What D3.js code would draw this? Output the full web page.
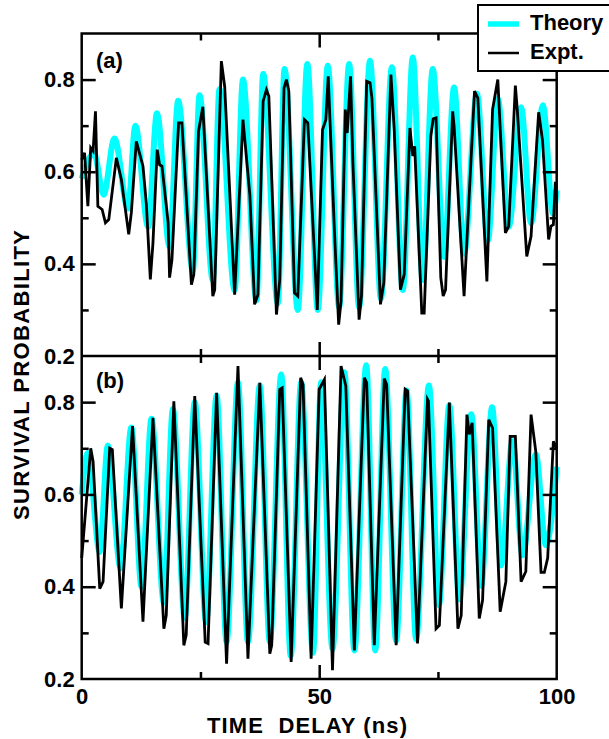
<!DOCTYPE html>
<html>
<head>
  <script src="https://d3js.org/d3.v7.min.js"></script>
  <style>
    body { margin: 0; background: #fff; }
    text { font-family: "Liberation Sans", Arial, sans-serif; font-weight: bold; }
  </style>
</head>
<body>
<script>
// panel (a) theory
var aTheoryT = [0, 2.6, 4.6, 6.9, 9.75, 11.3, 14.0, 15.85, 18.5, 20.3, 23.4, 24.8, 27.6, 29.0, 32.2, 33.95, 36.8, 38.2, 41.3, 42.7, 45.5, 47.5, 49.7, 51.8, 54.2, 56.3, 58.4, 60.7, 63.0, 65.3, 67.6, 69.7, 71.8, 73.9, 76.3, 78.4, 80.5, 83.2, 85.5, 87.6, 89.9, 92.5, 94.6, 97.1, 99.2, 100];
var aTheoryV = [0.585, 0.64, 0.55, 0.672, 0.52, 0.70, 0.48, 0.727, 0.437, 0.754, 0.386, 0.766, 0.365, 0.779, 0.343, 0.80, 0.321, 0.812, 0.314, 0.823, 0.30, 0.834, 0.30, 0.83, 0.306, 0.834, 0.306, 0.841, 0.325, 0.827, 0.343, 0.848, 0.365, 0.823, 0.415, 0.783, 0.422, 0.769, 0.451, 0.758, 0.48, 0.74, 0.488, 0.744, 0.509, 0.56];

// panel (a) experiment
var aExptT = [0, 0.6, 1.3, 1.9, 2.4, 2.9, 3.4, 4.3, 5.0, 5.7, 7.3, 8.35, 9.9, 10.45, 11.5, 12.9, 13.6, 14.45, 15.0, 15.9, 16.4, 16.9, 18.2, 18.5, 19.0, 20.4, 21.1, 23.1, 23.6, 24.6, 25.5, 27.6, 28.0, 29.4, 30.1, 32.2, 33.95, 35.4, 36.4, 37.1, 38.2, 38.9, 39.4, 41.0, 41.7, 42.6, 43.1, 43.6, 44.8, 45.5, 46.9, 47.6, 49.6,
  50.7, 51.4, 51.9, 53.2, 54.1, 54.6, 55.5, 55.9, 56.6, 57.1, 58.4, 58.9, 60.0, 60.7, 61.1, 62.9, 63.6, 65.1, 65.8, 67.1, 67.9, 69.1, 69.7, 70.1, 71.6, 72.1, 73.5, 74.0, 74.6, 75.6, 76.1, 76.6, 78.1, 78.4, 80.5, 82.7, 83.4, 85.3, 86.5, 87.6, 89.2, 89.9, 91.3, 91.7, 93.7, 94.6, 96.2, 97.0, 98.3, 98.8, 99.3, 99.7, 100];
var aExptV = [0.626, 0.641, 0.525, 0.652, 0.645, 0.731, 0.525, 0.518, 0.489, 0.496, 0.63, 0.583, 0.464, 0.511, 0.666, 0.612, 0.532, 0.366, 0.445, 0.648, 0.615, 0.612, 0.489, 0.37, 0.409, 0.706, 0.706, 0.355, 0.377, 0.688, 0.741, 0.33, 0.344, 0.84, 0.785, 0.333, 0.713, 0.55, 0.312, 0.333, 0.753, 0.778, 0.764, 0.29, 0.366, 0.782, 0.80, 0.775, 0.337, 0.33, 0.713, 0.706, 0.30,
  0.691, 0.713, 0.807, 0.474, 0.268, 0.319, 0.735, 0.684, 0.807, 0.619, 0.279, 0.33, 0.796, 0.793, 0.76, 0.312, 0.359, 0.811, 0.691, 0.344, 0.377, 0.695, 0.634, 0.655, 0.293, 0.293, 0.677, 0.715, 0.717, 0.37, 0.33, 0.344, 0.731, 0.699, 0.33, 0.775, 0.76, 0.362, 0.735, 0.80, 0.467, 0.482, 0.787, 0.735, 0.416, 0.46, 0.729, 0.67, 0.453, 0.482, 0.485, 0.575, 0.575];

// panel (b) theory
var bTheoryT = [0, 1.3, 3.8, 5.5, 8.2, 10.45, 12.6, 14.7, 17.3, 19.2, 21.7, 23.8, 26.2, 28.4, 30.5, 32.9, 35.0, 37.5, 39.6, 42.0, 44.0, 46.2, 48.7, 50.4, 52.8, 55.3, 57.4, 59.9, 61.8, 63.9, 66.2, 68.4, 70.4, 73.1, 75.2, 77.4, 79.5, 82.0, 84.1, 86.4, 88.3, 90.7, 92.8, 95.6, 97.7, 100];
var bTheoryV = [0.60, 0.69, 0.475, 0.706, 0.44, 0.745, 0.40, 0.764, 0.366, 0.785, 0.333, 0.80, 0.323, 0.814, 0.28, 0.843, 0.28, 0.836, 0.28, 0.86, 0.25, 0.843, 0.257, 0.843, 0.265, 0.865, 0.262, 0.88, 0.262, 0.872, 0.283, 0.825, 0.286, 0.836, 0.36, 0.793, 0.373, 0.774, 0.402, 0.789, 0.446, 0.716, 0.468, 0.687, 0.49, 0.66];

// panel (b) experiment
var bExptT = [0, 1.9, 2.4, 3.8, 4.5, 5.9, 6.45, 8.35, 10.7, 12.9, 15.0, 17.3, 17.8, 19.4, 21.5, 22.0, 23.8, 26.0, 26.6, 28.4, 30.5, 32.9, 35.0, 37.5, 39.6, 40.0, 41.7, 42.2, 44.1, 46.1, 46.6, 48.3,
  50.0, 51.1, 52.8, 54.6, 55.6, 57.4, 59.5, 60.0, 61.6, 63.7, 64.2, 66.2, 68.1, 68.6, 70.7, 72.8, 73.0, 74.6, 75.3, 77.4, 79.2, 79.9, 81.1, 81.6, 82.2, 83.7, 84.4, 85.7, 86.5, 88.1, 89.3, 90.2, 91.3, 92.5, 93.5, 94.6, 95.6, 96.7, 97.4, 98.1, 99.3, 100];
var bExptV = [0.462, 0.70, 0.671, 0.396, 0.411, 0.70, 0.697, 0.353, 0.748, 0.324, 0.766, 0.309, 0.338, 0.802, 0.273, 0.295, 0.813, 0.28, 0.277, 0.82, 0.233, 0.878, 0.244, 0.842, 0.255, 0.273, 0.828, 0.831, 0.237, 0.853, 0.838, 0.244,
  0.828, 0.849, 0.219, 0.878, 0.835, 0.262, 0.853, 0.842, 0.273, 0.851, 0.838, 0.273, 0.828, 0.824, 0.277, 0.806, 0.802, 0.309, 0.316, 0.799, 0.309, 0.338, 0.773, 0.73, 0.755, 0.331, 0.371, 0.762, 0.744, 0.346, 0.411, 0.726, 0.726, 0.411, 0.433, 0.773, 0.693, 0.431, 0.431, 0.462, 0.715, 0.70];

var xMajor = [0, 50, 100], xMinor = [25, 75];
var yMajor = [0.2, 0.4, 0.6, 0.8], yMinor = [0.3, 0.5, 0.7];

var left = 81.7, right = 556.7;
var panels = [
  { label: "(a)", top: 33.5, bottom: 356, theoryT: aTheoryT, theoryV: aTheoryV, exptT: aExptT, exptV: aExptV, labelY: 67.5 },
  { label: "(b)", top: 356, bottom: 679, theoryT: bTheoryT, theoryV: bTheoryV, exptT: bExptT, exptV: bExptV, labelY: 388 }
];

var svg = d3.select("body").append("svg")
    .attr("width", 609)
    .attr("height", 739);

var x = d3.scaleLinear().domain([0, 100]).range([left, right]);

function zip(ts, vs) { return ts.map(function(t, i) { return [t, vs[i]]; }); }

panels.forEach(function(p, idx) {
  var y = d3.scaleLinear().domain([0.2, 0.9]).range([p.bottom, p.top]);

  var theoryLine = d3.line().curve(d3.curveMonotoneX)
      .x(function(d) { return x(d[0]); }).y(function(d) { return y(d[1]); });
  var exptLine = d3.line()
      .x(function(d) { return x(d[0]); }).y(function(d) { return y(d[1]); });

  svg.append("path").datum(zip(p.theoryT, p.theoryV))
      .attr("d", theoryLine).attr("fill", "none")
      .attr("stroke", "#00ffff").attr("stroke-width", 6).attr("stroke-linejoin", "round");
  svg.append("path").datum(zip(p.exptT, p.exptV))
      .attr("d", exptLine).attr("fill", "none")
      .attr("stroke", "#000").attr("stroke-width", 2.8).attr("stroke-linejoin", "miter");

  // inward ticks on all four sides
  function ticks(axis, vals, len, tx, labels) {
    var g = svg.append("g").attr("transform", tx)
      .call(axis.tickValues(vals).tickSizeInner(-len).tickSizeOuter(0).tickPadding(labels ? 7 : 0)
        .tickFormat(labels || function() { return ""; }));
    g.select(".domain").remove();
    g.selectAll(".tick line").attr("stroke", "#000").attr("stroke-width", 2.5);
    g.selectAll("text").attr("font-size", 22).attr("fill", "#000")
      .style("font-family", "'Liberation Sans', Arial, sans-serif").attr("font-weight", "bold");
    return g;
  }
  var yLab = yMajor;
  ticks(d3.axisLeft(y), yMajor.filter(function(v) { return v > 0.2; }), 14, "translate(" + left + ",0)");
  ticks(d3.axisLeft(y), yLab, 0, "translate(" + left + ",0)", d3.format(".1f"));
  ticks(d3.axisLeft(y), yMinor, 7, "translate(" + left + ",0)");
  ticks(d3.axisRight(y), yMajor.filter(function(v) { return v > 0.2; }), 14, "translate(" + right + ",0)");
  ticks(d3.axisRight(y), yMinor, 7, "translate(" + right + ",0)");

  ticks(d3.axisTop(x), [50], 14, "translate(0," + p.top + ")");
  ticks(d3.axisTop(x), xMinor, 7, "translate(0," + p.top + ")");
  ticks(d3.axisBottom(x), [50], 14, "translate(0," + p.bottom + ")");
  ticks(d3.axisBottom(x), xMinor, 7, "translate(0," + p.bottom + ")");
  if (idx === 1) {
    var gx = ticks(d3.axisBottom(x), xMajor, 0, "translate(0," + p.bottom + ")", d3.format("d"));
    gx.selectAll("text").attr("dy", "0.71em").attr("y", 9);
  }

  svg.append("text").attr("x", 96).attr("y", p.labelY)
      .attr("font-size", 22).text(p.label);
});

// frame
svg.append("rect").attr("x", left).attr("y", 33.5)
    .attr("width", right - left).attr("height", 679 - 33.5)
    .attr("fill", "none").attr("stroke", "#000").attr("stroke-width", 2.5);
svg.append("line").attr("x1", left).attr("x2", right).attr("y1", 356).attr("y2", 356)
    .attr("stroke", "#000").attr("stroke-width", 2.5);

// axis titles
svg.append("text").attr("x", 207).attr("y", 733).attr("font-size", 22)
    .attr("textLength", 200).style("white-space", "pre").text("TIME  DELAY (ns)");
svg.append("text").attr("transform", "translate(29,375) rotate(-90)")
    .attr("text-anchor", "middle").attr("font-size", 22).attr("textLength", 290)
    .text("SURVIVAL PROBABILITY");

// legend
var lg = svg.append("g");
lg.append("rect").attr("x", 478).attr("y", 5).attr("width", 140).attr("height", 66)
    .attr("fill", "#fff").attr("stroke", "#000").attr("stroke-width", 2);
lg.append("line").attr("x1", 488).attr("x2", 519).attr("y1", 24).attr("y2", 24)
    .attr("stroke", "#00ffff").attr("stroke-width", 5.5);
lg.append("line").attr("x1", 488).attr("x2", 519).attr("y1", 53).attr("y2", 53)
    .attr("stroke", "#000").attr("stroke-width", 2.5);
lg.append("text").attr("x", 530).attr("y", 30).attr("font-size", 22).text("Theory");
lg.append("text").attr("x", 530).attr("y", 59).attr("font-size", 22).text("Expt.");
</script>
</body>
</html>
